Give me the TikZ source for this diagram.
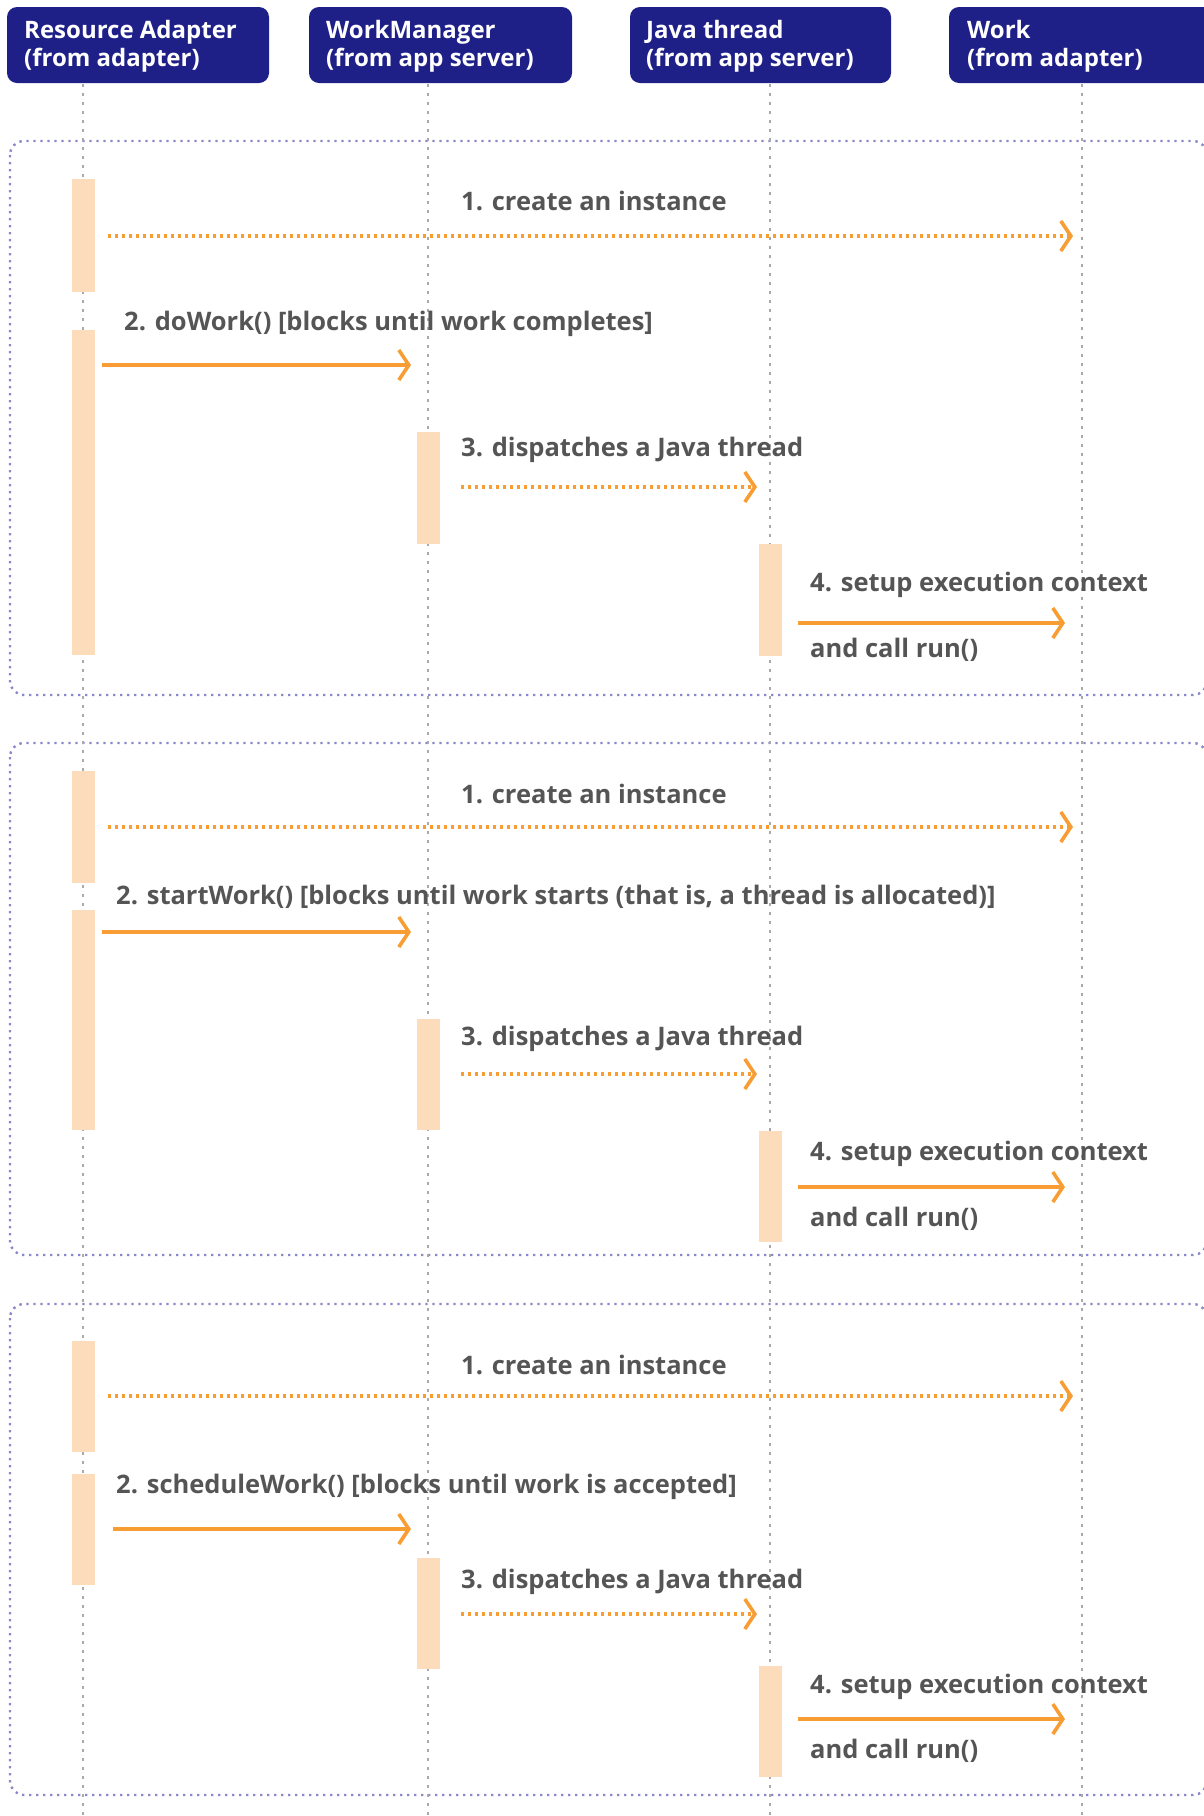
\documentclass[tikz,border=0pt]{standalone}
\usepackage{fontspec}
\setmainfont{Open Sans}
\usetikzlibrary{arrows.meta}
\definecolor{headblue}{HTML}{1E2088}
\definecolor{barfill}{HTML}{FDDCBC}
\definecolor{msgorange}{HTML}{F89C34}
\definecolor{labelgray}{HTML}{555555}
\definecolor{lifegray}{HTML}{AAAAAA}
\definecolor{framelav}{HTML}{8A88C8}
\tikzset{
  headbox/.style={draw=none, fill=headblue, rounded corners=10pt},
  headtext/.style={anchor=west, align=left, text=white, font=\fontsize{24}{28}\selectfont\bfseries, inner sep=0pt},
  lifeline/.style={draw=lifegray, line width=2.4pt, dash pattern=on 3pt off 6pt},
  groupframe/.style={draw=framelav, line width=2.4pt, dash pattern=on 2.4pt off 4.6pt, rounded corners=14pt},
  actbar/.style={fill=barfill, draw=none, minimum width=23pt, inner sep=0pt},
  callmsg/.style={draw=msgorange, line width=3.6pt, -{Straight Barb[length=10pt, width=30pt, line width=3.6pt]}},
  createmsg/.style={draw=msgorange, line width=3.2pt, dash pattern=on 3.2pt off 3.8pt, -{Straight Barb[length=10pt, width=30pt, line width=3.6pt]}},
  msglabel/.style={anchor=mid west, text=labelgray, font=\fontsize{25.5}{30}\selectfont\bfseries, inner sep=0pt},
}
\begin{document}
\begin{tikzpicture}[x=1pt, y=-1pt]
\useasboundingbox (0,0) rectangle (1204,1816);

% group frames (right edges run off the page)
\draw[groupframe] (10,141) rectangle (1207,695);
\draw[groupframe] (10,743) rectangle (1207,1255);
\draw[groupframe] (10,1304) rectangle (1207,1795);

% participant heads
\fill[headbox] (7,7) rectangle (269,83);
\fill[headbox] (309,7) rectangle (572,83);
\fill[headbox] (630,7) rectangle (891,83);
\fill[headbox] (949,7) rectangle (1230,83);
\node[headtext] (ra) at (24,46) {Resource Adapter\\(from adapter)};
\node[headtext] (wm) at (326,46) {WorkManager\\(from app server)};
\node[headtext] (jt) at (646,46) {Java thread\\(from app server)};
\node[headtext] (wk) at (967,46) {Work\\(from adapter)};

% lifelines
\coordinate (raTop) at (83,84);   \coordinate (raBot) at (83,1816);
\coordinate (wmTop) at (428,84);  \coordinate (wmBot) at (428,1816);
\coordinate (jtTop) at (770,84);  \coordinate (jtBot) at (770,1816);
\coordinate (wkTop) at (1082,84); \coordinate (wkBot) at (1082,1816);
\draw[lifeline] (raTop) -- (raBot);
\draw[lifeline] (wmTop) -- (wmBot);
\draw[lifeline] (jtTop) -- (jtBot);
\draw[lifeline] (wkTop) -- (wkBot);

% activation bars: group 1
\node[actbar, minimum height=113pt, anchor=north] (a1) at (83,179) {};
\node[actbar, minimum height=325pt, anchor=north] (a2) at (83,330) {};
\node[actbar, minimum height=112pt, anchor=north] (a3) at (428,432) {};
\node[actbar, minimum height=112pt, anchor=north] (a4) at (770,544) {};
% group 2
\node[actbar, minimum height=112pt, anchor=north] (b1) at (83,771) {};
\node[actbar, minimum height=220pt, anchor=north] (b2) at (83,910) {};
\node[actbar, minimum height=111pt, anchor=north] (b3) at (428,1019) {};
\node[actbar, minimum height=111pt, anchor=north] (b4) at (770,1131) {};
% group 3
\node[actbar, minimum height=111pt, anchor=north] (c1) at (83,1341) {};
\node[actbar, minimum height=111pt, anchor=north] (c2) at (83,1474) {};
\node[actbar, minimum height=111pt, anchor=north] (c3) at (428,1558) {};
\node[actbar, minimum height=111pt, anchor=north] (c4) at (770,1666) {};

% message end points
\coordinate (a1s) at (108,236);  \coordinate (a1e) at (1073,236);
\coordinate (a2s) at (102,365);  \coordinate (a2e) at (411,365);
\coordinate (a3s) at (461,487);  \coordinate (a3e) at (757,487);
\coordinate (a4s) at (798,623);  \coordinate (a4e) at (1065,623);
\coordinate (b1s) at (108,827);  \coordinate (b1e) at (1073,827);
\coordinate (b2s) at (102,932);  \coordinate (b2e) at (411,932);
\coordinate (b3s) at (461,1074); \coordinate (b3e) at (757,1074);
\coordinate (b4s) at (798,1187); \coordinate (b4e) at (1065,1187);
\coordinate (c1s) at (108,1396); \coordinate (c1e) at (1073,1396);
\coordinate (c2s) at (113,1529); \coordinate (c2e) at (411,1529);
\coordinate (c3s) at (461,1614); \coordinate (c3e) at (757,1614);
\coordinate (c4s) at (798,1719); \coordinate (c4e) at (1065,1719);

% group 1 messages
\draw[createmsg] (a1s) -- (a1e);
\draw[callmsg] (a2s) -- (a2e);
\draw[createmsg] (a3s) -- (a3e);
\draw[callmsg] (a4s) -- (a4e);
\node[msglabel] (la1) at (461,207.5) {1. create an instance};
\node[msglabel] (la2) at (124,327.5) {2. doWork() [blocks until work completes]};
\node[msglabel] (la3) at (461,453.5) {3. dispatches a Java thread};
\node[msglabel] (la4) at (810,588.5) {4. setup execution context};
\node[msglabel] (la5) at (810,654.5) {and call run()};

% group 2 messages
\draw[createmsg] (b1s) -- (b1e);
\draw[callmsg] (b2s) -- (b2e);
\draw[createmsg] (b3s) -- (b3e);
\draw[callmsg] (b4s) -- (b4e);
\node[msglabel] (lb1) at (461,800.5) {1. create an instance};
\node[msglabel] (lb2) at (116,901.5) {2. startWork() [blocks until work starts (that is, a thread is allocated)]};
\node[msglabel] (lb3) at (461,1042.5) {3. dispatches a Java thread};
\node[msglabel] (lb4) at (810,1157.5) {4. setup execution context};
\node[msglabel] (lb5) at (810,1223.5) {and call run()};

% group 3 messages
\draw[createmsg] (c1s) -- (c1e);
\draw[callmsg] (c2s) -- (c2e);
\draw[createmsg] (c3s) -- (c3e);
\draw[callmsg] (c4s) -- (c4e);
\node[msglabel] (lc1) at (461,1371.5) {1. create an instance};
\node[msglabel] (lc2) at (116,1490.5) {2. scheduleWork() [blocks until work is accepted]};
\node[msglabel] (lc3) at (461,1585.5) {3. dispatches a Java thread};
\node[msglabel] (lc4) at (810,1690.5) {4. setup execution context};
\node[msglabel] (lc5) at (810,1755.5) {and call run()};
\end{tikzpicture}
\end{document}
